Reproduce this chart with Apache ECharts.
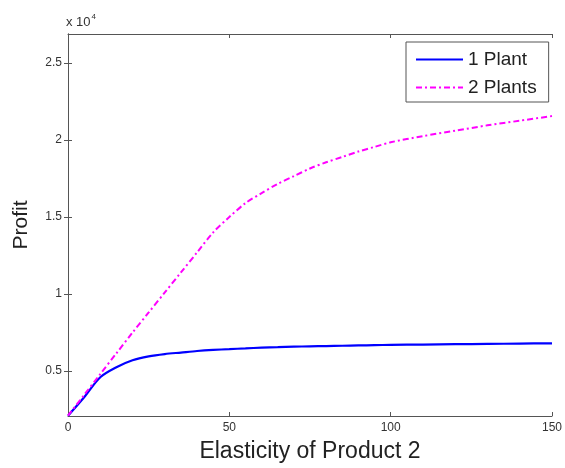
<!DOCTYPE html>
<html>
<head>
<meta charset="utf-8">
<script src="https://cdn.jsdelivr.net/npm/echarts@6/dist/echarts.min.js"></script>
<style>
  html, body { margin: 0; padding: 0; background: #fff; }
  #chart { width: 565px; height: 468px; }
</style>
</head>
<body>
<div id="chart"></div>
<script>
// Elasticity of product 2 (x) against profit for one and two plants
const elasticity = [0, 5, 10, 15, 20, 25, 30, 35, 40, 45, 50, 55, 60, 65, 70, 75, 80, 85, 90, 95, 100, 110, 120, 130, 140, 150];
const profitOnePlant = [2100, 3300, 4600, 5250, 5700, 5950, 6100, 6200, 6300, 6370, 6420, 6470, 6520, 6550, 6580, 6600, 6620, 6640, 6660, 6680, 6700, 6720, 6740, 6760, 6780, 6800];
const profitTwoPlants = [2100, 3450, 4800, 6150, 7500, 8800, 10100, 11400, 12700, 14000, 15000, 15900, 16550, 17150, 17650, 18150, 18550, 18900, 19250, 19550, 19850, 20250, 20600, 20950, 21250, 21550];
const seriesNames = ['1 Plant', '2 Plants'];
const yTicks = [5000, 10000, 15000, 20000, 25000];

const pairs = (xs, ys) => xs.map((x, i) => [x, ys[i]]);

const axisColor = '#555';
const textColor = '#333';
const yMin = 2080, yMax = 26880;

const chart = echarts.init(document.getElementById('chart'), null, { renderer: 'canvas' });
chart.setOption({
  animation: false,
  backgroundColor: '#fff',
  grid: { left: 68, right: 11, top: 34, bottom: 52, containLabel: false },
  xAxis: [{
    type: 'value', min: 0, max: 150, interval: 50,
    position: 'bottom',
    name: 'Elasticity of Product 2',
    nameLocation: 'middle', nameGap: 24,
    nameTextStyle: { fontFamily: 'Liberation Sans', fontSize: 23, color: '#222' },
    axisLine: { show: true, lineStyle: { color: axisColor, width: 1 } },
    axisTick: { show: true, inside: true, length: 4, lineStyle: { color: axisColor } },
    axisLabel: { margin: 6, fontFamily: 'Liberation Sans', fontSize: 12, color: textColor },
    splitLine: { show: false }
  }, {
    type: 'value', min: 0, max: 150, interval: 50,
    position: 'top',
    axisLine: { show: true, lineStyle: { color: axisColor, width: 1 } },
    axisTick: { show: true, inside: true, length: 4, lineStyle: { color: axisColor } },
    axisLabel: { show: false },
    splitLine: { show: false }
  }],
  yAxis: [{
    type: 'value', min: yMin, max: yMax,
    position: 'left',
    name: 'Profit',
    nameLocation: 'middle', nameGap: 36, nameRotate: 90,
    nameTextStyle: { fontFamily: 'Liberation Sans', fontSize: 21, color: '#222' },
    axisLine: { show: true, lineStyle: { color: axisColor, width: 1 } },
    axisTick: { show: true, inside: true, length: 4, customValues: yTicks, lineStyle: { color: axisColor } },
    axisLabel: {
      margin: 6, fontFamily: 'Liberation Sans', fontSize: 12, color: textColor,
      customValues: yTicks,
      formatter: v => String(v / 10000)
    },
    splitLine: { show: false }
  }, {
    type: 'value', min: yMin, max: yMax,
    position: 'right',
    axisLine: { show: true, lineStyle: { color: axisColor, width: 1 } },
    axisTick: { show: true, inside: true, length: 4, customValues: yTicks, lineStyle: { color: axisColor } },
    axisLabel: { show: false },
    splitLine: { show: false }
  }],
  legend: {
    show: true,
    orient: 'vertical',
    left: 406, top: 42,
    padding: [8, 12, 5, 9],
    itemGap: 9,
    itemWidth: 47, itemHeight: 18,
    backgroundColor: '#fff',
    borderColor: axisColor, borderWidth: 1, borderRadius: 0,
    itemStyle: { opacity: 0 },
    textStyle: { fontFamily: 'Liberation Sans', fontSize: 19, color: '#222' },
    data: seriesNames
  },
  graphic: [{
    type: 'text', left: 66, top: 13,
    style: {
      text: '{a|x 10}{b|4}',
      rich: {
        a: { fontFamily: 'Liberation Sans', fontSize: 13, fill: textColor, verticalAlign: 'bottom' },
        b: { fontFamily: 'Liberation Sans', fontSize: 8, fill: textColor, verticalAlign: 'top', padding: [0, 0, 8, 1] }
      }
    }
  }],
  series: [{
    name: seriesNames[0], type: 'line', xAxisIndex: 0, yAxisIndex: 0,
    data: pairs(elasticity, profitOnePlant),
    symbol: 'none', smooth: 0.3,
    lineStyle: { color: '#0000ff', width: 2.2, type: 'solid' },
    itemStyle: { color: '#0000ff' }
  }, {
    name: seriesNames[1], type: 'line', xAxisIndex: 0, yAxisIndex: 0,
    data: pairs(elasticity, profitTwoPlants),
    symbol: 'none', smooth: 0.3,
    lineStyle: { color: '#ff00ff', width: 2, type: [6, 3, 2, 3] },
    itemStyle: { color: '#ff00ff' }
  }]
});
</script>
</body>
</html>
